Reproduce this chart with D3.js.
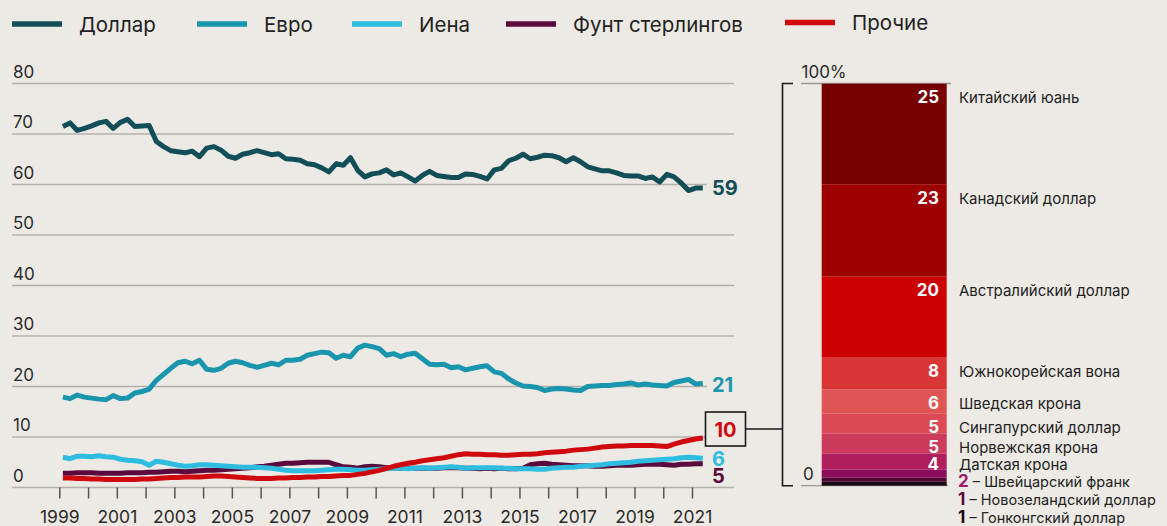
<!DOCTYPE html>
<html>
<head>
<meta charset="utf-8">
<script src="https://cdn.jsdelivr.net/npm/d3@7"></script>
<style>
  body { margin: 0; background: #edeae5; }
  svg { display: block; font-family: Inter, "Noto Sans", sans-serif; }
</style>
</head>
<body>
<svg id="chart" width="1167" height="526"></svg>
<script>
// Quarterly shares of world FX reserves, %, 1999Q1 – 2021Q2 (plotted at quarter midpoints)
const firstYear = 1999;
const quarterCount = 90;

const usd = [
  71.5, 72.2, 70.7, 71.1,  71.6, 72.2, 72.5, 71.1,  72.3, 72.9, 71.5, 71.6,
  71.7, 68.5, 67.5, 66.7,  66.5, 66.3, 66.6, 65.5,  67.2, 67.5, 66.8, 65.6,
  65.2, 66.0, 66.3, 66.7,  66.3, 65.9, 66.1, 65.1,  65.0, 64.8, 64.1, 63.9,
  63.3, 62.5, 64.1, 63.8,  65.3, 62.8, 61.5, 62.1,  62.3, 62.9, 61.9, 62.3,
  61.5, 60.7, 61.8, 62.6,  61.8, 61.6, 61.4, 61.4,  62.1, 62.0, 61.6, 61.1,
  62.9, 63.2, 64.7, 65.2,  66.0, 65.1, 65.4, 65.8,  65.7, 65.3, 64.5, 65.3,
  64.5, 63.5, 63.1, 62.7,  62.7, 62.3, 61.8, 61.7,  61.7, 61.2, 61.5, 60.5,
  62.0, 61.5, 60.3, 58.8,  59.3, 59.3
];
const eur = [
  17.9, 17.6, 18.3, 17.9,  17.7, 17.5, 17.4, 18.2,  17.6, 17.7, 18.7, 19.0,
  19.5, 21.2, 22.4, 23.6,  24.7, 25.0, 24.5, 25.2,  23.4, 23.2, 23.6, 24.6,
  25.0, 24.7, 24.2, 23.8,  24.2, 24.6, 24.3, 25.2,  25.2, 25.4, 26.2, 26.5,
  26.8, 26.7, 25.6, 26.2,  25.9, 27.6, 28.2, 27.9,  27.5, 26.2, 26.5, 25.9,
  26.4, 26.6, 25.5, 24.4,  24.3, 24.4, 23.7, 23.9,  23.3, 23.6, 23.9, 24.1,
  22.9, 22.6, 21.5, 20.7,  20.1, 20.0, 19.8, 19.2,  19.5, 19.6, 19.5, 19.3,
  19.2, 20.0, 20.1, 20.2,  20.2, 20.4, 20.5, 20.7,  20.3, 20.5, 20.3, 20.2,
  20.1, 20.8, 21.1, 21.4,  20.5, 20.6
];
const jpy = [
  6.0, 5.7, 6.2, 6.2,  6.1, 6.3, 6.1, 6.0,  5.6, 5.4, 5.3, 5.1,
  4.4, 5.2, 5.0, 4.7,  4.4, 4.2, 4.3, 4.5,  4.5, 4.4, 4.3, 4.2,
  4.1, 4.0, 4.0, 4.0,  3.9, 3.8, 3.6, 3.4,  3.3, 3.3, 3.3, 3.3,
  3.4, 3.5, 3.6, 3.6,  3.5, 3.4, 3.4, 3.5,  3.6, 3.7, 3.8, 3.8,
  3.7, 3.8, 3.9, 3.8,  3.9, 4.0, 4.1, 4.0,  3.8, 3.9, 3.9, 3.9,
  3.9, 3.8, 3.8, 3.7,  3.7, 3.7, 3.6, 3.6,  3.8, 3.9, 4.0, 4.0,
  4.2, 4.3, 4.4, 4.5,  4.7, 4.8, 4.9, 5.0,  5.2, 5.3, 5.4, 5.5,
  5.6, 5.7, 5.9, 6.0,  5.9, 5.8
];
const gbp = [
  2.8, 2.8, 2.9, 2.9,  2.9, 2.8, 2.8, 2.8,  2.8, 2.9, 2.9, 2.9,
  3.0, 3.0, 3.1, 3.2,  3.2, 3.1, 3.2, 3.3,  3.4, 3.4, 3.5, 3.6,
  3.7, 3.8, 3.9, 4.1,  4.2, 4.4, 4.6, 4.8,  4.8, 4.9, 5.0, 5.0,
  5.0, 5.0, 4.5, 4.1,  4.0, 3.8, 4.1, 4.2,  4.1, 3.9, 3.9, 3.8,
  3.8, 3.8, 3.8, 3.8,  3.8, 3.9, 3.9, 3.9,  3.8, 3.8, 3.7, 3.8,
  3.7, 3.8, 3.7, 3.7,  3.8, 4.5, 4.7, 4.8,  4.6, 4.5, 4.4, 4.3,
  4.3, 4.3, 4.2, 4.2,  4.3, 4.4, 4.4, 4.4,  4.5, 4.6, 4.6, 4.6,
  4.5, 4.4, 4.6, 4.6,  4.7, 4.7
];
const other = [
  1.9, 1.9, 1.8, 1.8,  1.7, 1.7, 1.6, 1.6,  1.6, 1.6, 1.6, 1.7,
  1.7, 1.8, 1.9, 2.0,  2.0, 2.1, 2.1, 2.1,  2.2, 2.3, 2.3, 2.2,
  2.1, 2.0, 1.9, 1.8,  1.8, 1.8, 1.9, 1.9,  2.0, 2.0, 2.1, 2.1,
  2.2, 2.2, 2.3, 2.4,  2.4, 2.6, 2.8, 3.1,  3.4, 3.8, 4.2, 4.5,
  4.8, 5.0, 5.3, 5.5,  5.7, 5.9, 6.2, 6.5,  6.7, 6.6, 6.6, 6.5,
  6.5, 6.4, 6.4, 6.5,  6.6, 6.6, 6.7, 6.9,  7.0, 7.1, 7.2, 7.4,
  7.5, 7.6, 7.8, 8.0,  8.1, 8.2, 8.2, 8.3,  8.3, 8.3, 8.3, 8.2,
  8.1, 8.6, 9.0, 9.3,  9.6, 9.8
];

const seriesNames  = ["Доллар", "Евро", "Иена", "Фунт стерлингов", "Прочие"];
const seriesColors = ["#114e58", "#1a95ae", "#2ebde0", "#5b0a3d", "#d0090f"];

const yTicks = [0, 10, 20, 30, 40, 50, 60, 70, 80];
const tickYears = d3.range(1999, 2022);

// Breakdown of "Прочие", % (top to bottom)
const otherCurrencies = ["Китайский юань", "Канадский доллар", "Австралийский доллар",
  "Южнокорейская вона", "Шведская крона", "Сингапурский доллар", "Норвежская крона",
  "Датская крона", "Швейцарский франк", "Новозеландский доллар", "Гонконгский доллар"];
const otherShares = [25, 23, 20, 8, 6, 5, 5, 4, 2, 1, 1];
const otherColors = ["#760000", "#9c0000", "#cd0000", "#d93535", "#e05454", "#dc4a56",
  "#cc3a5c", "#b01e5e", "#8c0c5c", "#500838", "#1c0812"];
const smallNumberColors = ["#a0186e", "#5a0a40", "#1c0812"];

// ---------------------------------------------------------------
const bg = "#edeae5";
const svg = d3.select("#chart");
const x = d3.scaleLinear().domain([1999, 2021]).range([59.3, 692]);
const y = d3.scaleLinear().domain([0, 80]).range([487.5, 83.5]);

const quarterT = i => firstYear + 0.125 + i * 0.25;
const allSeries = [usd, eur, jpy, gbp, other];
const drawOrder = [0, 1, 3, 2, 4]; // pound under yen, "other" on top

// grid + y labels
const grid = svg.append("g");
grid.selectAll("line").data(yTicks).join("line")
  .attr("x1", 12).attr("x2", 734)
  .attr("y1", d => y(d)).attr("y2", d => y(d))
  .attr("stroke", "#b4b0aa").attr("stroke-width", 1.5);
grid.selectAll("text").data(yTicks).join("text")
  .attr("x", 13).attr("y", d => y(d) - 6)
  .attr("font-size", 17).attr("fill", "#2a2a2a")
  .text(d => d);

// x axis
const xAxis = svg.append("g").attr("transform", `translate(0,${y(0)})`)
  .call(d3.axisBottom(x).tickValues(tickYears).tickSize(11)
    .tickFormat(d => (d % 2 === 1 ? d : "")));
xAxis.select(".domain").remove();
xAxis.selectAll(".tick line").attr("stroke", "#555").attr("stroke-width", 1.5);
xAxis.selectAll(".tick text").attr("dy", null).attr("y", 35)
  .attr("font-size", 17.5).attr("fill", "#2a2a2a").attr("font-family", "Inter, sans-serif");

// lines
const line = d3.line().x((d, i) => x(quarterT(i))).y(d => y(d));
drawOrder.forEach(k => {
  svg.append("path").datum(allSeries[k])
    .attr("d", line).attr("fill", "none")
    .attr("stroke", seriesColors[k]).attr("stroke-width", 5)
    .attr("stroke-linejoin", "round");
});

// end-of-line value labels
const endOffsets = [0, 1.5, 0.5, 11.5, -9];
[0, 1, 2, 3].forEach(k => {
  const v = allSeries[k][quarterCount - 1];
  const cy = y(v) + endOffsets[k];
  svg.append("rect").attr("x", 707).attr("y", cy - 8).attr("width", 30).attr("height", 16).attr("fill", bg);
  svg.append("text").attr("x", 712).attr("y", cy + 7.3)
    .attr("font-size", 20).attr("font-weight", 700).attr("fill", seriesColors[k])
    .text(Math.round(v));
});
{
  const v = other[quarterCount - 1];
  const cy = y(v) + endOffsets[4];
  svg.append("rect").attr("x", 705.5).attr("y", cy - 17).attr("width", 40).attr("height", 34)
    .attr("fill", bg).attr("stroke", "#1a1a1a").attr("stroke-width", 1.6);
  svg.append("text").attr("x", 725.5).attr("y", cy + 7.5).attr("text-anchor", "middle")
    .attr("font-size", 20).attr("font-weight", 700).attr("fill", seriesColors[4])
    .text(Math.round(v));
  // connector to the bracket around the breakdown bar
  svg.append("path")
    .attr("d", `M745.5,${cy}H782.5M793,83.5H782.5V485.7H793`)
    .attr("fill", "none").attr("stroke", "#1a1a1a").attr("stroke-width", 1.6);
}

// stacked bar
const yb = d3.scaleLinear().domain([0, 100]).range([485.7, 83.7]);
const cum = d3.cumsum(otherShares);
const segs = otherShares.map((v, i) => ({ name: otherCurrencies[i], v, color: otherColors[i],
  top: yb(100 - cum[i] + v), bottom: yb(100 - cum[i]) }));

svg.append("line").attr("x1", 801).attr("x2", 951).attr("y1", 83.5).attr("y2", 83.5)
  .attr("stroke", "#9a9690").attr("stroke-width", 1.3);
svg.append("line").attr("x1", 801).attr("x2", 948).attr("y1", 485.7).attr("y2", 485.7)
  .attr("stroke", "#9a9690").attr("stroke-width", 1.3);
svg.append("text").attr("x", 801.5).attr("y", 78.3).attr("font-size", 17).attr("fill", "#2a2a2a").text("100%");
svg.append("text").attr("x", 803).attr("y", 480).attr("font-size", 17).attr("fill", "#2a2a2a").text("0");

svg.append("g").selectAll("rect").data(segs).join("rect")
  .attr("x", 821.7).attr("width", 125)
  .attr("y", d => d.top).attr("height", d => d.bottom - d.top)
  .attr("fill", d => d.color);

const big = segs.filter(d => d.v >= 4);
svg.append("g").selectAll("text").data(big).join("text")
  .attr("x", 939).attr("y", d => Math.min(d.top + 19.5, d.bottom))
  .attr("text-anchor", "end").attr("font-size", 17).attr("font-weight", 700).attr("fill", "#fff")
  .text(d => d.v);
svg.append("g").selectAll("text").data(big).join("text")
  .attr("x", 959).attr("y", d => Math.min(d.top + 19.5, d.bottom))
  .attr("font-size", 15).attr("fill", "#222")
  .text(d => d.name);

const small = segs.filter(d => d.v < 4);
const smallText = svg.append("g").selectAll("text").data(small).join("text")
  .attr("x", 958).attr("y", (d, i) => 486.5 + i * 18)
  .attr("font-size", 14.5).attr("fill", "#222");
smallText.append("tspan").attr("font-weight", 700).attr("font-size", 17)
  .attr("fill", (d, i) => smallNumberColors[i]).text(d => d.v);
smallText.append("tspan").text(d => " – " + d.name);

// legend
const legend = svg.append("g");
const legendStarts = [12, 197, 352, 506, 785];
seriesNames.forEach((name, k) => {
  const lx = legendStarts[k];
  const ly = k === 4 ? 22.5 : 24;
  legend.append("line").attr("x1", lx).attr("x2", lx + 50).attr("y1", ly).attr("y2", ly)
    .attr("stroke", seriesColors[k]).attr("stroke-width", 5.5);
  legend.append("text").attr("x", lx + 67).attr("y", ly + 7.5)
    .attr("font-size", 20.5).attr("fill", "#222").text(name);
});
</script>
</body>
</html>
